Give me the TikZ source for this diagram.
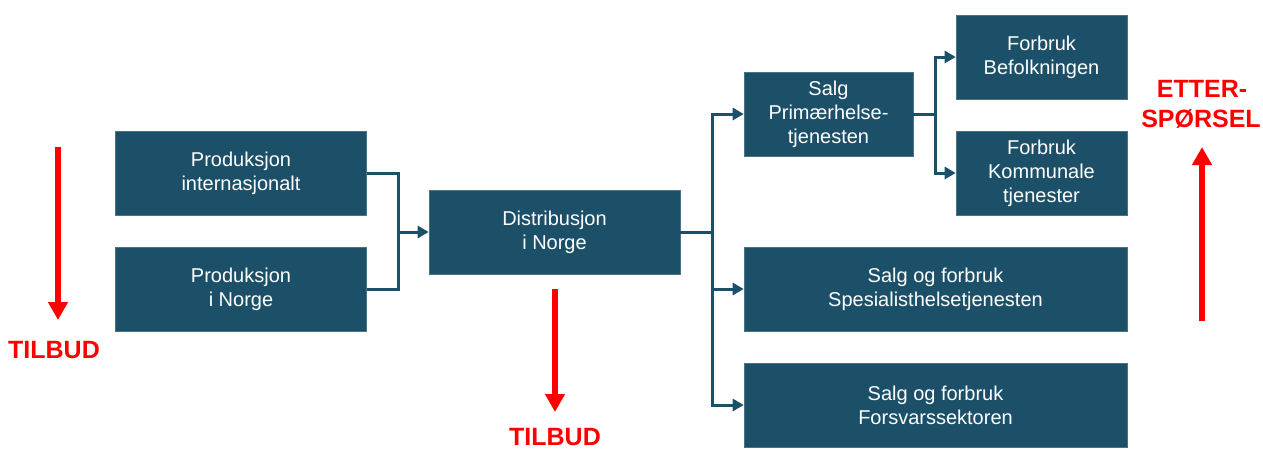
\documentclass[tikz,border=0pt]{standalone}
\usepackage{fontspec}
\setmainfont{Liberation Sans}
\usetikzlibrary{arrows.meta}
\definecolor{boxblue}{HTML}{1C5069}
\definecolor{signalred}{HTML}{FF0000}
\tikzset{
  flowbox/.style={rectangle, fill=boxblue, draw=boxblue!80!white, line width=0.6pt,
    text=white, align=center, inner sep=0pt,
    minimum height=84pt, font=\fontsize{20}{24}\selectfont},
  link/.style={draw=boxblue, line width=3pt},
  linkarrow/.style={link, -{Triangle[length=11pt,width=12pt]}},
  bigarrow/.style={draw=signalred, line width=6.5pt, -{Triangle[length=18pt,width=19pt]}},
  redlabel/.style={text=signalred, anchor=base, inner sep=0pt, font=\fontsize{25}{28}\selectfont\bfseries}
}
\begin{document}
\begin{tikzpicture}[x=1pt,y=-1pt]
\useasboundingbox (0,0) rectangle (1263,448);

% boxes
\node[flowbox, minimum width=251pt] (pi) at (241,173) {Produksjon\\internasjonalt};
\node[flowbox, minimum width=251pt] (pn) at (241,289) {Produksjon\\i Norge};
\node[flowbox, minimum width=251pt] (dist) at (554.5,232) {Distribusjon\\i Norge};
\node[flowbox, minimum width=169pt] (sp) at (828.5,114) {Salg\\Primærhelse-\\tjenesten};
\node[flowbox, minimum width=171pt] (fb) at (1041.5,57) {Forbruk\\Befolkningen};
\node[flowbox, minimum width=171pt] (fk) at (1041.5,173) {Forbruk\\Kommunale\\tjenester};
\node[flowbox, minimum width=383pt] (ss) at (935.5,289) {Salg og forbruk\\Spesialisthelsetjenesten};
\node[flowbox, minimum width=383pt] (sf) at (935.5,405) {Salg og forbruk\\Forsvarssektoren};

% junction points
\coordinate (j1) at (398,232);
\coordinate (t1) at (712,232);
\coordinate (t2) at (935,114);

% connectors
\draw[link] (pi.east) -| (j1);
\draw[link] (pn.east) -| (j1);
\draw[linkarrow] (j1) -- (dist.west);

\draw[link] (dist.east) -- (t1);
\draw[linkarrow] (t1) |- (sp.west);
\draw[linkarrow] (t1) |- (ss.west);
\draw[linkarrow] (t1) |- (sf.west);

\draw[link] (sp.east) -- (t2);
\draw[linkarrow] (t2) |- (fb.west);
\draw[linkarrow] (t2) |- (fk.west);

% supply / demand arrows
\coordinate (la1) at (58,147);
\coordinate (la2) at (58,320);
\draw[bigarrow] (la1) -- (la2);
\node[redlabel] (tl) at (54,358) {TILBUD};

\coordinate (ma1) at (555,289);
\coordinate (ma2) at (555,412);
\draw[bigarrow] (ma1) -- (ma2);
\node[redlabel] (tm) at (555,445) {TILBUD};

\coordinate (ra1) at (1202,321);
\coordinate (ra2) at (1202,147);
\draw[bigarrow] (ra1) -- (ra2);
\node[redlabel] (e1) at (1202,97) {ETTER-};
\node[redlabel] (e2) at (1201,127) {SPØRSEL};
\end{tikzpicture}
\end{document}
